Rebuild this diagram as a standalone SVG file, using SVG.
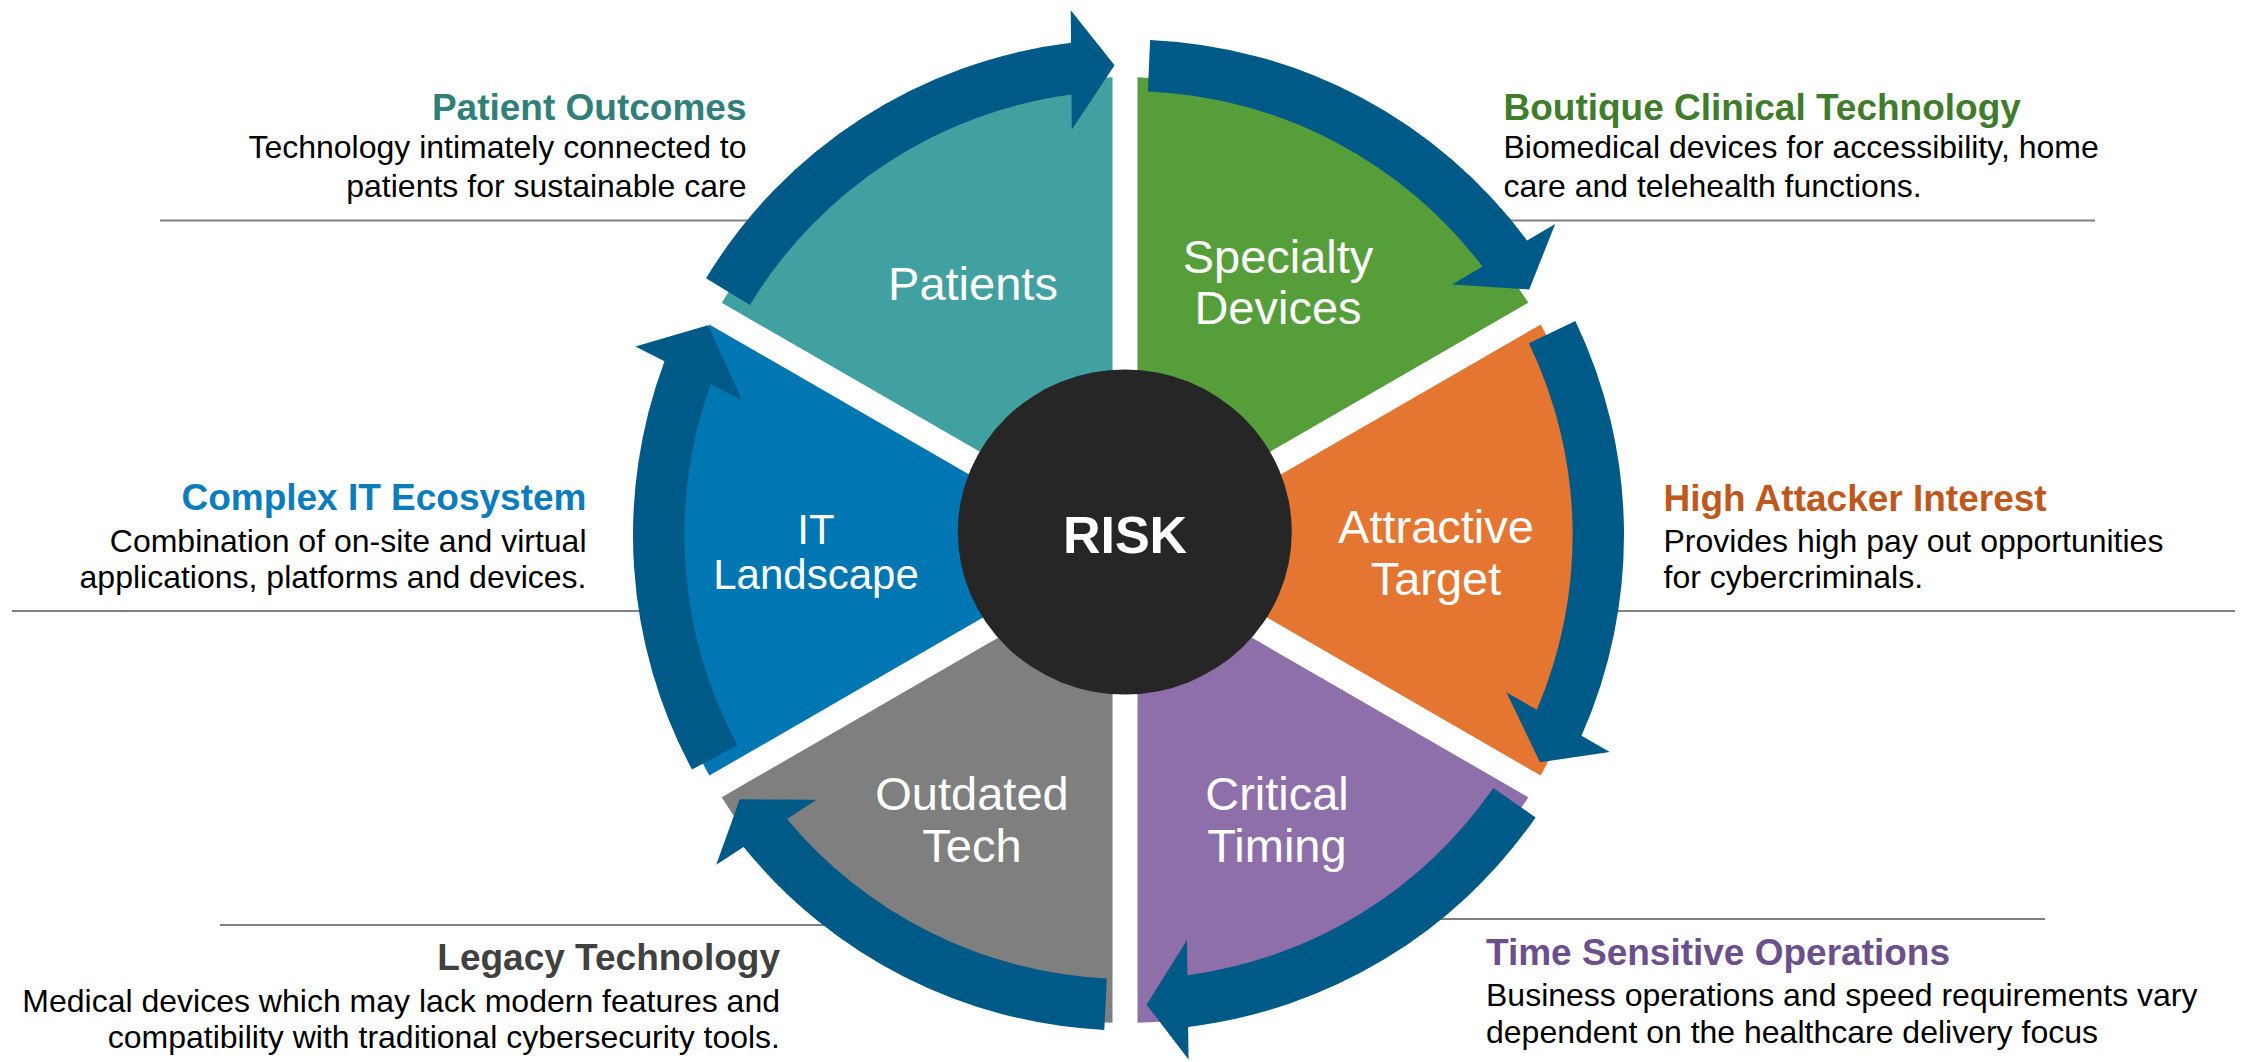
<svg xmlns="http://www.w3.org/2000/svg" width="2244" height="1062" viewBox="0 0 2244 1062">
  <style>
    text { font-family: "Liberation Sans", Arial, Helvetica, sans-serif; }
    .lbl { fill: #ffffff; font-size: 47px; text-anchor: middle; }
    .hd { font-weight: bold; font-size: 37px; }
    .bd { fill: #000000; font-size: 32px; }
    .end { text-anchor: end; }
    .rule { stroke: #808080; stroke-width: 2; fill: none; }
    .arrow { fill: #005A87; }
  </style>

  <!-- divider rules behind the wheel -->
  <g id="rules">
    <line class="rule" x1="160" y1="220.5" x2="790" y2="220.5"/>
    <line class="rule" x1="1470" y1="220.5" x2="2095" y2="220.5"/>
    <line class="rule" x1="12" y1="611" x2="700" y2="611"/>
    <line class="rule" x1="1560" y1="611" x2="2235" y2="611"/>
    <line class="rule" x1="220" y1="925" x2="860" y2="925"/>
    <line class="rule" x1="1400" y1="919" x2="2045" y2="919"/>
  </g>

  <!-- wheel sectors -->
  <g id="patients">
    <path d="M 1112.5 528.35 L 721.76 302.76 A 473 473 0 0 1 1112.5 77.17 Z" fill="#41A1A0"/>
    <text class="lbl" x="973" y="300">Patients</text>
  </g>
  <g id="specialty-devices">
    <path d="M 1137.5 528.35 L 1137.5 77.17 A 473 473 0 0 1 1528.24 302.76 Z" fill="#569E3A"/>
    <text class="lbl" x="1278" y="273">Specialty</text>
    <text class="lbl" x="1278" y="324">Devices</text>
  </g>
  <g id="attractive-target">
    <path d="M 1150 550 L 1540.74 324.4 A 473 473 0 0 1 1540.74 775.6 Z" fill="#E57632"/>
    <text class="lbl" x="1436" y="543">Attractive</text>
    <text class="lbl" x="1436" y="595">Target</text>
  </g>
  <g id="critical-timing">
    <path d="M 1137.5 571.65 L 1528.24 797.24 A 473 473 0 0 1 1137.5 1022.83 Z" fill="#8E6FAA"/>
    <text class="lbl" x="1277" y="810">Critical</text>
    <text class="lbl" x="1277" y="862">Timing</text>
  </g>
  <g id="outdated-tech">
    <path d="M 1112.5 571.65 L 1112.5 1022.83 A 473 473 0 0 1 721.76 797.24 Z" fill="#7F7F7F"/>
    <text class="lbl" x="972" y="810">Outdated</text>
    <text class="lbl" x="972" y="862">Tech</text>
  </g>
  <g id="it-landscape">
    <path d="M 1100 550 L 709.26 775.6 A 473 473 0 0 1 709.26 324.4 Z" fill="#0077B3"/>
    <text class="lbl" x="816" y="543.5" style="font-size:42px">IT</text>
    <text class="lbl" x="816" y="588.5" style="font-size:42px">Landscape</text>
  </g>

  <!-- centre hub -->
  <g id="risk">
    <ellipse cx="1124.8" cy="532" rx="167" ry="162.5" fill="#262626"/>
    <text x="1125" y="553" fill="#ffffff" font-weight="bold" font-size="52" text-anchor="middle">RISK</text>
  </g>

  <!-- clockwise curved arrows around the wheel -->
  <g id="connectors">
    <path class="arrow" d="M 706.02 278.32 A 495.5 495.5 0 0 1 1071.02 42.85 L 1070.74 10.25 L 1114.56 65.21 L 1071.78 129.75 L 1071.47 94.5 A 444 444 0 0 0 749.93 304.99 Z"/>
    <path class="arrow" d="M 1150.11 39.97 A 495.5 495.5 0 0 1 1527.05 240.54 L 1555.2 224.09 L 1529.24 289.42 L 1452.02 284.39 L 1482.46 266.6 A 444 444 0 0 0 1147.87 91.42 Z"/>
    <path class="arrow" d="M 1575.36 320.9 A 495.5 495.5 0 0 1 1581.55 735.67 L 1609.77 751.99 L 1539.97 762.14 L 1506.33 692.15 L 1536.84 709.81 A 444 444 0 0 0 1528.91 343.15 Z"/>
    <path class="arrow" d="M 1535.63 817.44 A 495.5 495.5 0 0 1 1188.12 1026.89 L 1188.55 1059.48 L 1146.54 1004.65 L 1186.98 940.0 L 1187.44 975.24 A 444 444 0 0 0 1493.31 788.08 Z"/>
    <path class="arrow" d="M 1104.29 1029.91 A 495.5 495.5 0 0 1 743.62 847.0 L 716.23 864.68 L 739.77 799.18 L 816.63 799.86 L 787.01 818.98 A 444 444 0 0 0 1106.81 978.47 Z"/>
    <path class="arrow" d="M 692.02 769.53 A 495.5 495.5 0 0 1 664.5 361.16 L 635.38 346.51 L 707.88 325.29 L 742.14 400.21 L 710.64 384.37 A 444 444 0 0 0 737.38 745.15 Z"/>
  </g>

  <!-- descriptive callouts -->
  <g id="note-patient-outcomes">
    <text class="hd end" x="746.5" y="120" fill="#317F7B">Patient Outcomes</text>
    <text class="bd end" x="746.5" y="158.3">Technology intimately connected to</text>
    <text class="bd end" x="746.5" y="196.7">patients for sustainable care</text>
  </g>
  <g id="note-boutique">
    <text class="hd" x="1503.5" y="120" fill="#3F7C2C">Boutique Clinical Technology</text>
    <text class="bd" x="1503.5" y="158.3">Biomedical devices for accessibility, home</text>
    <text class="bd" x="1503.5" y="196.7">care and telehealth functions.</text>
  </g>
  <g id="note-complex-it">
    <text class="hd end" x="586.5" y="510" fill="#0B7DBD">Complex IT Ecosystem</text>
    <text class="bd end" x="586.5" y="551.7">Combination of on-site and virtual</text>
    <text class="bd end" x="586.5" y="588.3">applications, platforms and devices.</text>
  </g>
  <g id="note-attacker">
    <text class="hd" x="1663.5" y="510.5" fill="#C0581C">High Attacker Interest</text>
    <text class="bd" x="1663.5" y="551.7">Provides high pay out opportunities</text>
    <text class="bd" x="1663.5" y="588.3">for cybercriminals.</text>
  </g>
  <g id="note-legacy">
    <text class="hd end" x="780" y="970" fill="#404040">Legacy Technology</text>
    <text class="bd end" x="780" y="1011.7">Medical devices which may lack modern features and</text>
    <text class="bd end" x="780" y="1048.3">compatibility with traditional cybersecurity tools.</text>
  </g>
  <g id="note-time-sensitive">
    <text class="hd" x="1486" y="965" fill="#6C4F8D">Time Sensitive Operations</text>
    <text class="bd" x="1486" y="1006">Business operations and speed requirements vary</text>
    <text class="bd" x="1486" y="1043.3">dependent on the healthcare delivery focus</text>
  </g>
</svg>
